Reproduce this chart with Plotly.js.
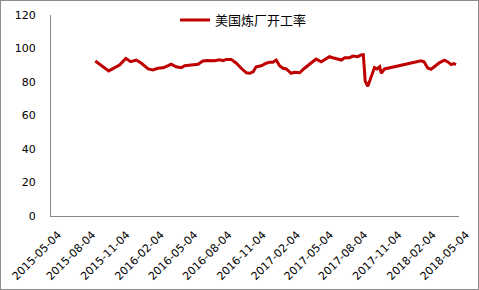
<!DOCTYPE html>
<html>
<head>
<meta charset="utf-8">
<script src="https://cdn.plot.ly/plotly-3.0.1.min.js"></script>
<style>
html,body{margin:0;padding:0;background:#fff;}
#chart{width:477px;height:288px;border:1px solid #8c8c8c;}
</style>
</head>
<body>
<div id="chart"></div>
<script>
var seriesName = '美国炼厂开工率';
var dates = [
'2015-08-31','2015-10-06','2015-11-04','2015-11-21','2015-12-04','2015-12-19','2016-01-02','2016-01-20',
'2016-02-02','2016-02-15','2016-02-29','2016-03-08','2016-03-22','2016-04-04','2016-04-18','2016-04-27',
'2016-05-10','2016-05-24','2016-06-02','2016-06-15','2016-06-28','2016-07-16','2016-07-30','2016-08-08',
'2016-08-17','2016-08-30','2016-09-13','2016-09-26','2016-10-10','2016-10-19','2016-10-28','2016-11-05',
'2016-11-19','2016-12-02','2016-12-11','2016-12-20','2016-12-29','2017-01-07','2017-01-16','2017-01-25',
'2017-02-07','2017-02-16','2017-03-02','2017-03-15','2017-03-28','2017-04-15','2017-04-29','2017-05-12',
'2017-05-21','2017-05-30','2017-06-13','2017-06-22','2017-07-01','2017-07-14','2017-07-23','2017-08-05',
'2017-08-14','2017-08-20','2017-08-25','2017-09-01','2017-09-19','2017-09-26','2017-10-03','2017-10-07',
'2017-10-16','2018-01-22','2018-01-30','2018-02-09','2018-02-18','2018-02-27','2018-03-13','2018-03-26',
'2018-04-04','2018-04-13','2018-04-20','2018-04-26'
];
var utilization = [
92.5,86.6,90.1,94.1,92.1,93.1,91.2,87.8,
87.2,88.2,88.5,89.1,90.6,89.1,88.5,89.7,
90.1,90.1,90.6,92.5,92.8,92.7,93.3,92.7,
93.5,93.5,91.2,88.2,85.5,85.2,86.1,89.1,
89.7,91.2,91.8,91.8,93.1,89.7,88.2,87.8,
85.2,85.8,85.5,88.2,90.6,93.7,92.1,94.1,
95.1,94.5,93.7,93.1,94.5,94.5,95.5,95.1,
96.1,96.3,80.5,77.5,88.6,87.8,89.1,85.2,
87.8,92.7,92.1,88.4,87.6,89.0,91.6,93.0,
92.0,90.4,91.0,90.4
];
var tickDates = ['2015-05-04','2015-08-04','2015-11-04','2016-02-04','2016-05-04','2016-08-04','2016-11-04',
'2017-02-04','2017-05-04','2017-08-04','2017-11-04','2018-02-04','2018-05-04'];
var yTicks = [0,20,40,60,80,100,120];

var trace = {
  x: dates, y: utilization, type: 'scatter', mode: 'lines', name: seriesName,
  line: {color: '#C00000', width: 3}
};
var layout = {
  width: 477, height: 288,
  margin: {l: 50, r: 19, t: 14, b: 73, autoexpand: false},
  paper_bgcolor: '#fff', plot_bgcolor: '#fff',
  font: {family: 'DejaVu Sans, sans-serif', size: 11, color: '#000'},
  showlegend: true,
  legend: {x: 0.304, y: 0.975, xanchor: 'left', yanchor: 'middle', bgcolor: 'rgba(0,0,0,0)',
           font: {family: 'Noto Sans CJK SC, sans-serif', size: 13, color: '#000'}},
  xaxis: {
    type: 'date', range: ['2015-05-04', '2018-05-04'],
    tickmode: 'array', tickvals: tickDates, ticktext: tickDates, tickangle: -45,
    showgrid: false, zeroline: false, showline: true, linecolor: '#868686', linewidth: 1,
    ticks: '', ticklabelstandoff: 7, ticklabelshift: 7, automargin: false, fixedrange: true
  },
  yaxis: {
    range: [0, 120], tickmode: 'array', tickvals: yTicks, ticktext: yTicks.map(String),
    showgrid: false, zeroline: false, showline: true, linecolor: '#868686', linewidth: 1,
    ticks: '', ticklabelstandoff: 12, automargin: false, fixedrange: true
  }
};
Plotly.newPlot('chart', [trace], layout, {displayModeBar: false, staticPlot: true});
</script>
</body>
</html>
